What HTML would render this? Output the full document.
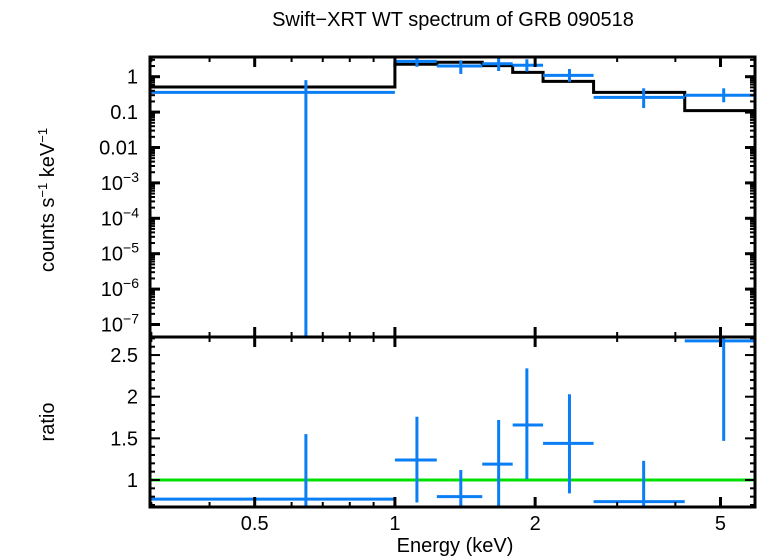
<!DOCTYPE html>
<html><head><meta charset="utf-8"><style>
html,body{margin:0;padding:0;background:#fff;}
svg{display:block;font-family:"Liberation Sans",sans-serif;}
</style></head><body>
<svg id="chart" width="758" height="556" viewBox="0 0 758 556">
<text x="453" y="26" font-size="20" text-anchor="middle">Swift−XRT WT spectrum of GRB 090518</text>
<text transform="translate(54,200) rotate(-90)" font-size="20" text-anchor="middle">counts s<tspan baseline-shift="super" font-size="13">−1</tspan> keV<tspan baseline-shift="super" font-size="13">−1</tspan></text>
<text transform="translate(54,422) rotate(-90)" font-size="20" text-anchor="middle">ratio</text>
<text x="455" y="552" font-size="20" text-anchor="middle">Energy (keV)</text>
<g id="marks"></g>
</svg>
<script>
const binLo = [0.298, 1.0, 1.23, 1.54, 1.79, 2.08, 2.67, 4.19];
const binHi = [1.0, 1.23, 1.54, 1.79, 2.08, 2.67, 4.19, 5.93];
const binCenter = [0.644, 1.115, 1.385, 1.67, 1.92, 2.37, 3.42, 5.08];
const counts = [0.36, 2.72, 2.0, 2.33, 2.1, 1.09, 0.26, 0.30];
const countsErrLo = [1e-8, 1.9, 1.2, 1.45, 1.4, 0.72, 0.13, 0.19];
const countsErrHi = [0.8, 3.7, 2.9, 3.4, 3.1, 1.65, 0.47, 0.47];
const model = [0.51, 2.24, 2.55, 2.05, 1.33, 0.74, 0.36, 0.11];
const ratio = [0.77, 1.24, 0.80, 1.19, 1.66, 1.44, 0.74, 2.67];
const ratioErrLo = [0.3, 0.73, 0.5, 0.5, 1.01, 0.84, 0.5, 1.47];
const ratioErrHi = [1.55, 1.76, 1.12, 1.72, 2.34, 2.03, 1.23, 3.0];
const xMajorTicks = [0.5, 1, 2, 5];
const xTickLabels = ["0.5", "1", "2", "5"];
const xMinorTicks = [0.3,0.4,0.6,0.7,0.8,0.9,3,4];
const yTopTicks = [1, 0.1, 0.01, 1e-3, 1e-4, 1e-5, 1e-6, 1e-7];
const yTopLabels = ["1","0.1","0.01","-3","-4","-5","-6","-7"];
const yRatioTicks = [1, 1.5, 2, 2.5];
const yRatioLabels = ["1","1.5","2","2.5"];

const L=150,R=755,T1=57,B1=337,B2=507;
const xMin=0.298,xMax=5.93;
const X=v=>L+(Math.log10(v)-Math.log10(xMin))/(Math.log10(xMax)-Math.log10(xMin))*(R-L);
const Y1=v=>76.7-Math.log10(v)*35.4;
const Y2=v=>480-(v-1)*83.3;
const clamp=(y,a,b)=>Math.max(a,Math.min(b,y));
const NS="http://www.w3.org/2000/svg";
const g=document.getElementById('marks');
function el(tag,attrs){const e=document.createElementNS(NS,tag);for(const k in attrs)e.setAttribute(k,attrs[k]);g.appendChild(e);return e;}
function line(x1,y1,x2,y2,c,w){return el('line',{x1,y1,x2,y2,stroke:c,'stroke-width':w});}
const BLUE="#0a7ef5";

let d="";
binLo.forEach((lo,i)=>{const y=Y1(model[i]);d+=(i?"L":"M")+X(lo)+","+y+"L"+Math.min(X(binHi[i]),R)+","+y;});
const mp=el('path',{d,fill:'none',stroke:'#000','stroke-width':3});



counts.forEach((c,i)=>{
 const h=line(X(binLo[i]),Y1(c),X(binHi[i]),Y1(c),BLUE,3);
 
 
 const v=line(X(binCenter[i]),clamp(Y1(countsErrHi[i]),T1,B1),X(binCenter[i]),clamp(Y1(countsErrLo[i]),T1,B1),BLUE,3);
 
 
});

const gl=line(L,Y2(1),R,Y2(1),'#00e000',3);


ratio.forEach((r,i)=>{
 const h=line(X(binLo[i]),clamp(Y2(r),B1,B2),X(binHi[i]),clamp(Y2(r),B1,B2),BLUE,3);
 
 
 const v=line(X(binCenter[i]),clamp(Y2(ratioErrHi[i]),B1,B2),X(binCenter[i]),clamp(Y2(ratioErrLo[i]),B1,B2),BLUE,3);
 
 
});

[[T1,B1],[B1,B2]].forEach((p,j)=>{
 const r=el('rect',{x:L,y:p[0],width:R-L,height:p[1]-p[0],fill:'none',stroke:'#000','stroke-width':3});
 
 
});

[[T1,1],[B1,1],[B1,-1],[B2,-1]].forEach(([y,s])=>{
 xMajorTicks.forEach(v=>line(X(v),y,X(v),y+s*10,'#000',3));
 xMinorTicks.forEach(v=>line(X(v),y,X(v),y+s*5,'#000',2));
});
xMajorTicks.forEach((v,i)=>{
 const t=el('text',{x:X(v),y:530,'font-size':20,'text-anchor':'middle'});t.textContent=xTickLabels[i];
 
 
});
yTopTicks.forEach((v,i)=>{
 const y=Y1(v);
 line(L,y,L+10,y,'#000',3);line(R,y,R-10,y,'#000',3);
 for(let m=2;m<10;m++){const ym=Y1(v*m);if(ym>T1&&ym<B1){line(L,ym,L+5,ym,'#000',2);line(R,ym,R-5,ym,'#000',2);}}
 const t=el('text',{x:138,y:y+7,'font-size':20,'text-anchor':'end'});
 if(i<3)t.textContent=yTopLabels[i];
 else{t.textContent="10";const s=document.createElementNS(NS,'tspan');s.setAttribute('font-size',14);s.setAttribute('dy',-8);s.textContent="−"+yTopLabels[i].slice(1);t.appendChild(s);t.setAttribute('x',139);}
 
 
});
for(let k=7;k<=27;k++){const v=k/10,y=Y2(v);if(y<B1||y>B2)continue;const w=(k%5==0)?10:5;line(L,y,L+w,y,'#000',2);line(R,y,R-w,y,'#000',2);}
yRatioTicks.forEach((v,i)=>{
 const t=el('text',{x:138,y:Y2(v)+7,'font-size':20,'text-anchor':'end'});t.textContent=yRatioLabels[i];
 
 
});
</script>
</body></html>
